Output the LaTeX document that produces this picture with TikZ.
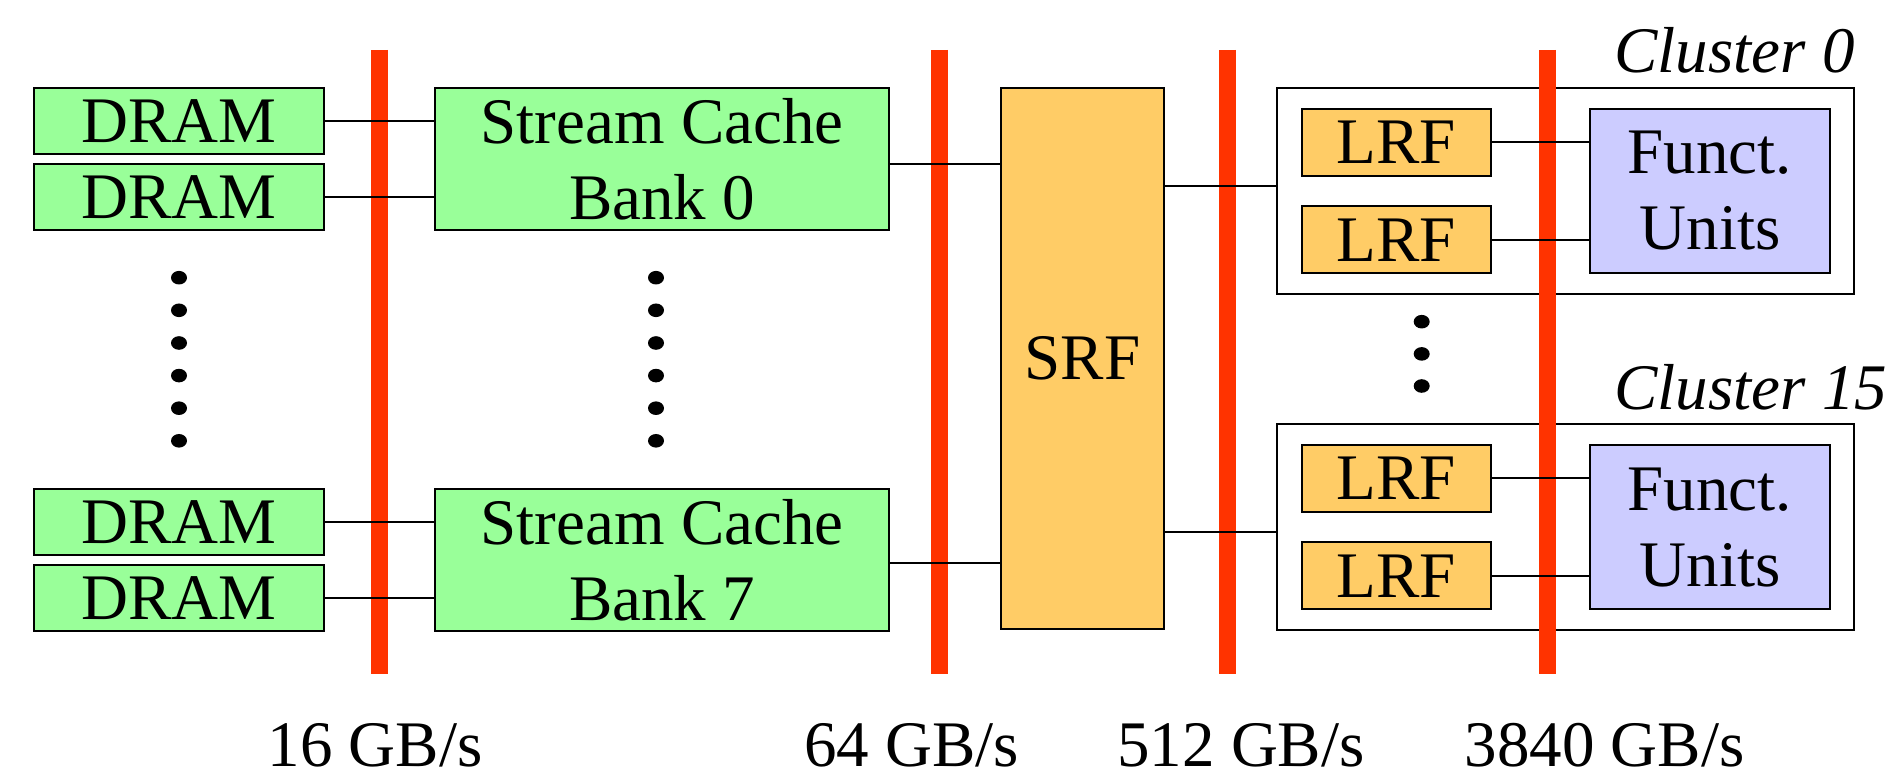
\documentclass[tikz,border=0pt]{standalone}
\usepackage{fontspec}
\setmainfont{Liberation Serif}
\definecolor{memgreen}{HTML}{99FF99}
\definecolor{regorange}{HTML}{FFCC66}
\definecolor{fulavender}{HTML}{CCCCFF}
\definecolor{busred}{HTML}{FF3300}
\begin{document}
\begin{tikzpicture}[x=0.5pt,y=-0.5pt,
  font=\fontsize{32.5pt}{38pt}\selectfont,
  box/.style={draw=black,line width=1pt,inner sep=0pt,align=center},
  dram/.style={box,fill=memgreen,minimum width=145pt,minimum height=33pt},
  cache/.style={box,fill=memgreen,minimum width=227pt,minimum height=71pt},
  srfbox/.style={box,fill=regorange,minimum width=81.5pt,minimum height=270.5pt},
  lrf/.style={box,fill=regorange,minimum width=94.5pt,minimum height=33.5pt},
  fu/.style={box,fill=fulavender,minimum width=120pt,minimum height=82pt},
  cluster/.style={box,fill=white,minimum width=288.5pt,minimum height=103pt},
  link/.style={draw=black,line width=1pt},
  bus/.style={draw=busred,line width=8.5pt},
  bw/.style={anchor=base,inner sep=0pt},
  cname/.style={anchor=base west,inner sep=0pt,font=\fontsize{32.5pt}{38pt}\selectfont\itshape},
  dot/.style={fill=black}]
\useasboundingbox (0,0) rectangle (1892,780);

% memory channels
\node[dram] (d0) at (179,121) {DRAM};
\node[dram] (d1) at (179,197) {DRAM};
\node[dram] (d2) at (179,522) {DRAM};
\node[dram] (d3) at (179,598) {DRAM};

% stream cache banks
\node[cache] (sc0) at (662,159) {Stream Cache\\Bank 0};
\node[cache] (sc7) at (662,560) {Stream Cache\\Bank 7};

% stream register file
\node[srfbox] (srf) at (1082.5,358.5) {SRF};

% clusters
\node[cluster] (cl0) at (1565.5,191) {};
\node[cluster] (cl15) at (1565.5,527) {};
\node[lrf] (l0a) at (1396.5,142.5) {LRF};
\node[lrf] (l0b) at (1396.5,240) {LRF};
\node[lrf] (l15a) at (1396.5,478.5) {LRF};
\node[lrf] (l15b) at (1396.5,576) {LRF};
\node[fu] (fu0) at (1710,191) {Funct.\\Units};
\node[fu] (fu15) at (1710,527.5) {Funct.\\Units};
\node[cname] (c0lab) at (1614,73) {Cluster 0};
\node[cname] (c15lab) at (1614,410) {Cluster 15};

% bandwidth boundaries
\coordinate (b1t) at (379.5,50);  \coordinate (b1b) at (379.5,674);
\coordinate (b2t) at (939.5,50);  \coordinate (b2b) at (939.5,674);
\coordinate (b3t) at (1227.5,50); \coordinate (b3b) at (1227.5,674);
\coordinate (b4t) at (1547.5,50); \coordinate (b4b) at (1547.5,674);
\draw[bus] (b1t) -- (b1b);
\draw[bus] (b2t) -- (b2b);
\draw[bus] (b3t) -- (b3b);
\draw[bus] (b4t) -- (b4b);

% connections
\draw[link] (d0.east) -- (d0.east -| sc0.west);
\draw[link] (d1.east) -- (d1.east -| sc0.west);
\draw[link] (d2.east) -- (d2.east -| sc7.west);
\draw[link] (d3.east) -- (d3.east -| sc7.west);
\draw[link] ([yshift=-2.5pt]sc0.east) -- ([yshift=-2.5pt]sc0.east -| srf.west);
\draw[link] ([yshift=-1.5pt]sc7.east) -- ([yshift=-1.5pt]sc7.east -| srf.west);
\draw[link] ([yshift=2.5pt]cl0.west -| srf.east) -- ([yshift=2.5pt]cl0.west);
\draw[link] ([yshift=-2.5pt]cl15.west -| srf.east) -- ([yshift=-2.5pt]cl15.west);
\draw[link] (l0a.east) -- (l0a.east -| fu0.west);
\draw[link] (l0b.east) -- (l0b.east -| fu0.west);
\draw[link] (l15a.east) -- (l15a.east -| fu15.west);
\draw[link] (l15b.east) -- (l15b.east -| fu15.west);

% ellipsis dots
\foreach \yy in {277.7,310.3,343,375.6,408.2,440.8} {
  \fill[dot] (179,\yy) ellipse [x radius=4pt, y radius=3.4pt];
  \fill[dot] (656,\yy) ellipse [x radius=4pt, y radius=3.4pt];
}
\foreach \yy in {321.7,353.9,386} {
  \fill[dot] (1421.7,\yy) ellipse [x radius=4pt, y radius=3.4pt];
}

% bandwidth labels
\node[bw] (bw1) at (375,766) {16 GB/s};
\node[bw] (bw2) at (911.5,766) {64 GB/s};
\node[bw] (bw3) at (1241,766) {512 GB/s};
\node[bw] (bw4) at (1604.5,766) {3840 GB/s};
\end{tikzpicture}
\end{document}
